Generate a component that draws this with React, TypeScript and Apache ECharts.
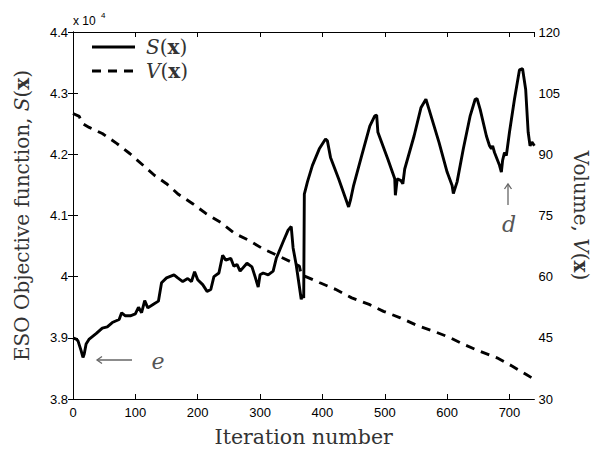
import React, { useEffect, useRef } from 'react';
import * as echarts from 'echarts';

// S(x): ESO objective function (plotted on left axis, scale x 10^4)
const sIter = [
  0, 5, 8, 13, 16, 18, 21, 26, 37, 47, 55, 63, 74, 78, 84, 92, 100, 105, 110, 115,
  120, 129, 137, 142, 150, 162, 168, 176, 184, 190, 195, 200, 208, 215, 221, 226, 234, 240, 245, 253,
  258, 263, 268, 279, 287, 292, 297, 300, 305, 313, 321, 326, 337, 345, 350, 353, 358, 366, 368, 370,
  371, 376, 384, 395, 405, 408, 413, 426, 442, 445, 450, 463, 476, 484, 487, 489, 505, 516, 517, 520,
  526, 529, 532, 547, 558, 566, 571, 587, 600, 608, 610, 616, 626, 637, 645, 648, 653, 663, 668, 671,
  673, 676, 684, 687, 689, 692, 695, 700, 708, 716, 721, 726, 730, 733, 736, 740,
];
const sVal = [
  39000, 38980, 38950, 38790, 38680, 38735, 38900, 38980, 39070, 39160, 39180, 39250, 39300, 39410, 39360, 39360, 39390, 39500, 39410, 39610,
  39490, 39550, 39600, 39900, 39980, 40030, 39980, 39920, 39970, 39920, 40080, 39950, 39870, 39760, 39790, 40000, 40060, 40350, 40270, 40300,
  40170, 40200, 40090, 40220, 40160, 40000, 39830, 40030, 40060, 40030, 40090, 40300, 40570, 40760, 40820, 40470, 40190, 39630, 39700, 39650,
  41350, 41550, 41820, 42090, 42250, 42220, 41950, 41600, 41140, 41250, 41490, 41980, 42460, 42630, 42640, 42360, 41920, 41600, 41330, 41600,
  41570, 41520, 41760, 42300, 42760, 42900, 42735, 42195, 41710, 41490, 41360, 41550, 42090, 42630, 42900, 42910, 42735, 42300, 42140, 42090,
  42140, 42030, 41820, 41710, 41900, 42030, 41980, 42360, 42900, 43380, 43400, 43060, 42360, 42140, 42200, 42140,
];

// V(x): volume (right axis)
const vIter = [
  0, 10, 15, 26, 47, 70, 91, 111, 131, 150, 169, 192, 213, 237, 259, 281, 305, 332, 354, 363,
  366, 396, 421, 447, 475, 498, 525, 551, 577, 604, 628, 654, 680, 704, 727, 740,
];
const vVal = [
  100.0, 99.3, 97.6, 96.6, 95.1, 92.7, 90.2, 87.5, 84.8, 82.8, 80.2, 77.9, 75.5, 73.3, 70.6, 69.0, 66.8, 64.9, 63.3, 62.6,
  60.5, 58.5, 56.9, 54.8, 53.2, 51.5, 49.9, 48.1, 46.7, 45.1, 43.3, 41.6, 40.1, 38.1, 36.0, 34.8,
];

const xTickLabels = ['0', '100', '200', '300', '400', '500', '600', '700'];
const legendNames = ['S', 'V'];

export default function App() {
  const ref = useRef<HTMLDivElement>(null);

  useEffect(() => {
    document.body.style.margin = '0';
    const chart = echarts.init(ref.current!, null, { renderer: 'svg' });
    const serif = 'DejaVu Serif';
    const sans = 'Liberation Sans';
    const titleColor = '#333';
    const lineW = 2.9;
    const dash = [9, 7];
    const rowGap = 24;
    const legendFont = 20;
    const sData = sIter.map((x, i) => [x, sVal[i]]);
    const vData = vIter.map((x, i) => [x, vVal[i]]);
    const richTitle = {
      n: { fontFamily: serif, fontSize: 20, color: titleColor },
      i: { fontFamily: serif, fontSize: 20, fontStyle: 'italic', color: titleColor },
      b: { fontFamily: serif, fontSize: 20, fontWeight: 'bold', color: titleColor },
    };
    const richLegend = {
      n: { fontFamily: serif, fontSize: legendFont, fill: titleColor },
      i: { fontFamily: serif, fontSize: legendFont, fontStyle: 'italic', fill: titleColor },
      b: { fontFamily: serif, fontSize: legendFont, fontWeight: 'bold', fill: titleColor },
    };
    const axisLine = { show: true, lineStyle: { color: '#000', width: 1 } };
    const axisTick = { show: true, inside: true, length: 5, lineStyle: { color: '#000', width: 1 } };
    const tickFont = { color: '#000', fontFamily: sans, fontSize: 13 };

    const legendGraphics: any[] = [];
    legendNames.forEach((name, k) => {
      const y = 47 + k * rowGap;
      legendGraphics.push({
        type: 'line',
        shape: { x1: 92, y1: y, x2: 135, y2: y },
        style: { stroke: '#000', lineWidth: lineW, lineDash: k === 0 ? null : dash },
      });
      legendGraphics.push({
        type: 'text',
        x: 146,
        y: y,
        style: {
          text: `{i|${name}}{n|(}{b|x}{n|)}`,
          rich: richLegend,
          verticalAlign: 'middle',
          align: 'left',
        },
      });
    });

    chart.setOption({
      animation: false,
      backgroundColor: '#fff',
      grid: { left: 73, right: 57, top: 32, bottom: 50, containLabel: false },
      xAxis: [
        {
          type: 'value',
          min: 0,
          max: 740,
          interval: 100,
          position: 'bottom',
          axisLine,
          axisTick,
          splitLine: { show: false },
          axisLabel: {
            show: true,
            margin: 7,
            ...tickFont,
            showMaxLabel: false,
            formatter: (v: number) => xTickLabels[Math.round(v / 100)] ?? '',
          },
          name: 'Iteration number',
          nameLocation: 'middle',
          nameGap: 27,
          nameTextStyle: { fontFamily: serif, fontSize: 20.5, color: titleColor },
        },
        {
          type: 'value',
          min: 0,
          max: 740,
          interval: 100,
          position: 'top',
          axisLine,
          axisTick,
          splitLine: { show: false },
          axisLabel: { show: false },
        },
      ],
      yAxis: [
        {
          type: 'value',
          min: 38000,
          max: 44000,
          interval: 1000,
          position: 'left',
          axisLine,
          axisTick,
          splitLine: { show: false },
          axisLabel: {
            margin: 5,
            ...tickFont,
            formatter: (v: number) => String(Math.round(v / 100) / 100),
          },
          name: '{n|ESO Objective function, }{i|S}{n|(}{b|x}{n|)}',
          nameLocation: 'middle',
          nameRotate: 90,
          nameGap: 41,
          nameTextStyle: { rich: richTitle },
        },
        {
          type: 'value',
          min: 30,
          max: 120,
          interval: 15,
          position: 'right',
          axisLine,
          axisTick,
          splitLine: { show: false },
          axisLabel: { margin: 4, ...tickFont },
          name: '{n|Volume, }{i|V}{n|(}{b|x}{n|)}',
          nameLocation: 'middle',
          nameRotate: -90,
          nameGap: 31,
          nameTextStyle: { rich: richTitle },
        },
      ],
      series: [
        {
          name: 'S',
          type: 'line',
          xAxisIndex: 0,
          yAxisIndex: 0,
          data: sData,
          symbol: 'none',
          showSymbol: false,
          lineStyle: { color: '#000', width: lineW, type: 'solid' },
          itemStyle: { color: '#000' },
          z: 3,
        },
        {
          name: 'V',
          type: 'line',
          xAxisIndex: 0,
          yAxisIndex: 1,
          data: vData,
          symbol: 'none',
          showSymbol: false,
          lineStyle: { color: '#000', width: lineW, type: dash },
          itemStyle: { color: '#000' },
          z: 2,
        },
      ],
      graphic: [
        ...legendGraphics,
        {
          type: 'text',
          left: 73,
          top: 15,
          style: { text: 'x 10', fontFamily: sans, fontSize: 12, fill: '#000' },
        },
        {
          type: 'text',
          left: 101,
          top: 11,
          style: { text: '4', fontFamily: sans, fontSize: 8, fill: '#000' },
        },
        {
          type: 'line',
          shape: { x1: 97, y1: 360, x2: 132, y2: 360 },
          style: { stroke: '#666', lineWidth: 1.3 },
        },
        {
          type: 'polyline',
          shape: { points: [[102, 356.5], [97, 360], [102, 363.5]] },
          style: { stroke: '#666', lineWidth: 1.3, fill: null },
        },
        {
          type: 'text',
          x: 158,
          y: 361,
          style: {
            text: 'e',
            fontFamily: serif,
            fontStyle: 'italic',
            fontSize: 22,
            fill: '#555',
            align: 'center',
            verticalAlign: 'middle',
          },
        },
        {
          type: 'line',
          shape: { x1: 508, y1: 205, x2: 508, y2: 184 },
          style: { stroke: '#666', lineWidth: 1.3 },
        },
        {
          type: 'polyline',
          shape: { points: [[504.5, 189], [508, 184], [511.5, 189]] },
          style: { stroke: '#666', lineWidth: 1.3, fill: null },
        },
        {
          type: 'text',
          x: 509,
          y: 224,
          style: {
            text: 'd',
            fontFamily: serif,
            fontStyle: 'italic',
            fontSize: 22,
            fill: '#555',
            align: 'center',
            verticalAlign: 'middle',
          },
        },
      ],
    });
    return () => chart.dispose();
  }, []);

  return <div ref={ref} style={{ width: 599, height: 452 }} />;
}
